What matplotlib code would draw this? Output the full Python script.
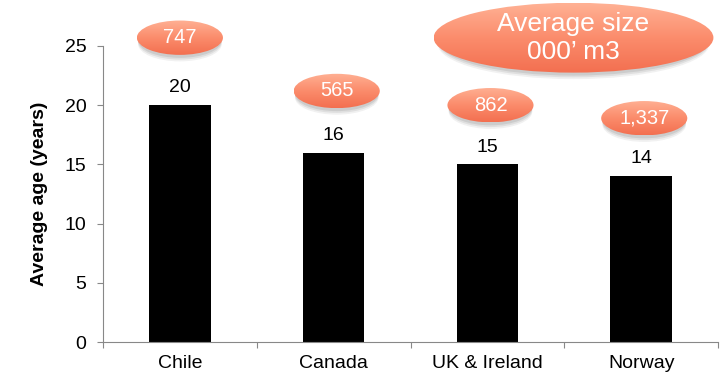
import matplotlib
matplotlib.use("Agg")
import matplotlib.pyplot as plt
import numpy as np
from matplotlib.patches import Ellipse
from matplotlib.colors import LinearSegmentedColormap

plt.rcParams['font.family'] = ['Liberation Sans', 'DejaVu Sans']

categories = ["Chile", "Canada", "UK & Ireland", "Norway"]
avg_age = [20, 16, 15, 14]
avg_size = ["747", "565", "862", "1,337"]
yticks = [0, 5, 10, 15, 20, 25]

fig = plt.figure(figsize=(7.22, 3.76), dpi=100)
ax = fig.add_axes([0.1427, 0.0904, 0.8518, 0.7873])

x = np.arange(len(categories))
ax.bar(x, avg_age, width=0.4, color='black', zorder=2)
for xi, v in zip(x, avg_age):
    ax.text(xi, v + 0.75, str(v), ha='center', va='bottom', fontsize=14, color='black')

ax.set_xlim(-0.5, len(categories) - 0.5)
ax.set_ylim(0, 25)
ax.set_yticks(yticks)
ax.set_xticks(np.arange(-0.5, len(categories), 1.0))
ax.set_xticklabels([])
ax.set_xticks(x, minor=True)
ax.set_xticklabels(categories, minor=True, fontsize=14)
ax.tick_params(axis='x', which='minor', length=0, pad=9)
ax.tick_params(axis='x', which='major', length=4, color='#888888', direction='out')
ax.tick_params(axis='y', length=4, color='#888888', labelsize=14, pad=8)
for s in ['top', 'right']:
    ax.spines[s].set_visible(False)
for s in ['left', 'bottom']:
    ax.spines[s].set_color('#888888')
ax.set_ylabel("Average age (years)", fontsize=14, fontweight='bold', labelpad=12)

cmap = LinearSegmentedColormap.from_list('sal', ['#FFB194', '#FB8C6C', '#F36F50'])
grad = np.linspace(0, 1, 256).reshape(-1, 1)

def bubble(cx, cy, w, h, text, fs):
    for k, a in [(0.55, 0.10), (0.4, 0.14), (0.25, 0.18)]:
        sh = Ellipse((cx, cy - k), w * 0.97, h, facecolor='#777777', alpha=a,
                     edgecolor='none', clip_on=False, zorder=3)
        ax.add_patch(sh)
    e = Ellipse((cx, cy), w, h, facecolor='none', edgecolor='none', clip_on=False, zorder=4)
    ax.add_patch(e)
    im = ax.imshow(grad, cmap=cmap, aspect='auto',
                   extent=(cx - w / 2, cx + w / 2, cy - h / 2, cy + h / 2),
                   origin='upper', zorder=4, interpolation='bilinear')
    im.set_clip_box(fig.bbox)
    im.set_clip_path(e)
    im.set_clip_on(True)
    ax.text(cx, cy, text, ha='center', va='center', color='white', fontsize=fs, zorder=5)

bubble_pos = [(0.0, 25.7), (1.02, 21.2), (2.02, 20.0), (3.02, 18.9)]
for (cx, cy), t in zip(bubble_pos, avg_size):
    bubble(cx, cy, 0.56, 2.9, t, 14.5)

bubble(2.56, 25.7, 1.82, 5.9, "Average size\n000\u2019 m3", 19)

ax.set_xlim(-0.5, len(categories) - 0.5)
ax.set_ylim(0, 25)

fig.savefig("out.png", dpi=100)
